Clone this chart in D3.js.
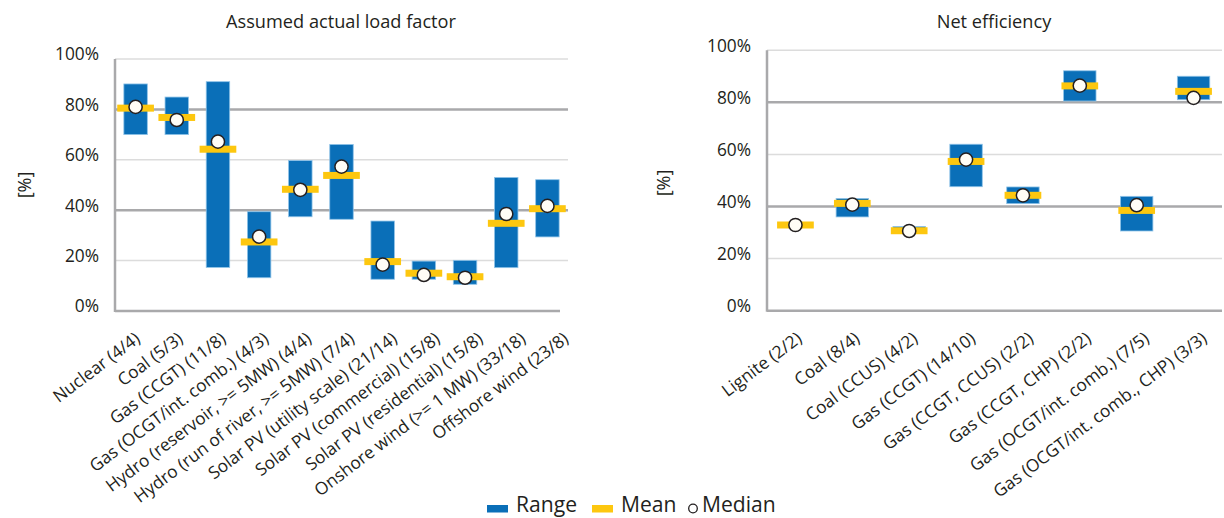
<!DOCTYPE html>
<html><head><meta charset="utf-8">
<script src="https://cdn.jsdelivr.net/npm/d3@7"></script>
<style>
body{margin:0;background:#fff;}
svg{display:block;font-family:"Open Sans","Noto Sans",sans-serif;}
</style></head>
<body><svg id="c" width="1224" height="518"></svg>
<script>
const yTicks = [0, 20, 40, 60, 80, 100];
const loadCategories = ["Nuclear (4/4)","Coal (5/3)","Gas (CCGT) (11/8)","Gas (OCGT/int. comb.) (4/3)","Hydro (reservoir, >= 5MW) (4/4)","Hydro (run of river, >= 5MW) (7/4)","Solar PV (utility scale) (21/14)","Solar PV (commercial) (15/8)","Solar PV (residential) (15/8)","Onshore wind (>= 1 MW) (33/18)","Offshore wind (23/8)"];
const loadMin    = [70.0, 70.0, 17.3, 13.2, 37.4, 36.4, 12.6, 12.6, 10.6, 17.2, 29.4];
const loadMax    = [90.1, 84.9, 91.0, 39.4, 59.7, 66.1, 35.7, 19.8, 20.1, 53.0, 52.1];
const loadMean   = [80.5, 76.8, 64.2, 27.4, 48.3, 53.8, 19.6, 15.0, 13.6, 34.8, 40.6];
const loadMedian = [81.0, 75.8, 67.2, 29.5, 48.1, 57.3, 18.4, 14.3, 13.2, 38.5, 41.7];

const effCategories = ["Lignite (2/2)","Coal (8/4)","Coal (CCUS) (4/2)","Gas (CCGT) (14/10)","Gas (CCGT, CCUS) (2/2)","Gas (CCGT, CHP) (2/2)","Gas (OCGT/int. comb.) (7/5)","Gas (OCGT/int. comb., CHP) (3/3)"];
const effMin    = [32.9, 36.0, 30.0, 47.6, 41.1, 80.5, 30.6, 81.0];
const effMax    = [32.9, 43.1, 32.3, 63.9, 47.5, 92.1, 43.9, 90.0];
const effMean   = [32.9, 41.2, 30.7, 57.3, 44.3, 86.3, 38.5, 84.2];
const effMedian = [32.9, 40.7, 30.6, 58.0, 44.3, 86.4, 40.5, 81.7];

const legendItems = ["Range", "Mean", "Median"];

const BLUE = "#0a6fb8", YELLOW = "#fdc70f", DARK = "#a9a9ab", LIGHT = "#dcdcdc", TXT = "#231f20";
const FONT = "'Open Sans',sans-serif";
const svg = d3.select("#c");

// size fonts so text widths match the original (narrower) typeface
const probe = svg.append("text").attr("font-family", FONT).attr("x", -1000).attr("y", -1000);
function fitSize(str, targetWidth) {
  probe.attr("font-size", 20).text(str);
  return 20 * targetWidth / probe.node().getComputedTextLength();
}
const LABEL_SIZE = fitSize(loadCategories[5], 270);
const TICK_SIZE = fitSize("100%", 44);
const TITLE_SIZE = fitSize("Assumed actual load factor", 230);
const LEGEND_SIZE = fitSize(legendItems[0], 61);
probe.remove();

function panel(cfg) {
  const g = svg.append("g");
  const x = d3.scaleBand().domain(cfg.cats).range([cfg.x0, cfg.x1]).paddingInner(0.43).paddingOuter(0.215);
  const xc = d3.scaleBand().domain(cfg.cats).range([cfg.x0, cfg.x1]);
  const xl = d3.scaleBand().domain(cfg.cats).range(cfg.labelRange);
  const y = d3.scaleLinear().domain([0, 100]).range([cfg.y0, cfg.y1]);

  g.selectAll(".grid").data(yTicks.filter(t => t > 0)).join("line")
    .attr("x1", cfg.x0).attr("x2", cfg.x1)
    .attr("y1", d => y(d)).attr("y2", d => y(d))
    .attr("stroke", d => (d === 40 || d === 80) ? DARK : LIGHT)
    .attr("stroke-width", d => (d === 40 || d === 80) ? 2.5 : 1.5);
  g.append("line").attr("x1", cfg.x0).attr("x2", cfg.x1 - cfg.baseTrim).attr("y1", y(0)).attr("y2", y(0))
    .attr("stroke", DARK).attr("stroke-width", 2.5);
  g.append("line").attr("x1", cfg.x0).attr("x2", cfg.x0).attr("y1", y(0) + 1).attr("y2", y(100))
    .attr("stroke", DARK).attr("stroke-width", 2.5);

  const yAxis = d3.axisLeft(y).tickValues(yTicks).tickFormat(d => d + "%").tickSize(0).tickPadding(16);
  const ya = g.append("g").attr("transform", `translate(${cfg.x0},0)`).call(yAxis);
  ya.select(".domain").remove();
  ya.selectAll("text").attr("font-size", TICK_SIZE).attr("fill", TXT).attr("dy", "0.05em")
    .attr("font-family", FONT);

  const xAxis = d3.axisBottom(xl).tickSize(0).tickPadding(0);
  const xa = g.append("g").attr("transform", `translate(0,${y(0)})`).call(xAxis);
  xa.select(".domain").remove();
  xa.selectAll("text").attr("font-size", LABEL_SIZE).attr("fill", TXT)
    .attr("font-family", FONT)
    .attr("text-anchor", "end").attr("dy", 0)
    .attr("transform", "translate(8,30) rotate(-37)");

  g.append("text").attr("x", cfg.titleX).attr("y", 28).attr("text-anchor", "middle")
    .attr("font-family", FONT).attr("font-size", TITLE_SIZE).attr("fill", TXT).text(cfg.title);
  g.append("text").attr("transform", `translate(${cfg.ylabX},${cfg.ylabY}) rotate(-90)`)
    .attr("font-family", FONT).attr("text-anchor", "middle").attr("font-size", 18).attr("fill", TXT).text("[%]");

  const idx = d3.range(cfg.cats.length);
  g.selectAll(".bar").data(idx).join("rect")
    .attr("x", i => x(cfg.cats[i])).attr("width", x.bandwidth())
    .attr("y", i => y(cfg.max[i])).attr("height", i => y(cfg.min[i]) - y(cfg.max[i]))
    .attr("fill", BLUE).attr("stroke", "#8fc3e8").attr("stroke-width", 0.8);
  const mw = 36.7, mh = 7;
  g.selectAll(".mean").data(idx).join("rect")
    .attr("x", i => xc(cfg.cats[i]) + xc.bandwidth() / 2 - mw / 2).attr("width", mw)
    .attr("y", i => y(cfg.mean[i]) - mh / 2).attr("height", mh)
    .attr("fill", YELLOW);
  g.selectAll(".med").data(idx).join("circle")
    .attr("cx", i => xc(cfg.cats[i]) + xc.bandwidth() / 2)
    .attr("cy", i => y(cfg.median[i])).attr("r", 6.6)
    .attr("fill", "#fffdf6").attr("stroke", TXT).attr("stroke-width", 1.5);
}

panel({cats: loadCategories, min: loadMin, max: loadMax, mean: loadMean, median: loadMedian,
  x0: 115, x1: 568, y0: 311, y1: 59, baseTrim: 8, labelRange: [111.9, 583.1],
  title: "Assumed actual load factor", titleX: 341, ylabX: 31, ylabY: 185});
panel({cats: effCategories, min: effMin, max: effMax, mean: effMean, median: effMedian,
  x0: 767, x1: 1222, y0: 310.7, y1: 50.2, baseTrim: 0, labelRange: [766.1, 1229],
  title: "Net efficiency", titleX: 994, ylabX: 670, ylabY: 183});

const lg = svg.append("g").attr("font-family", FONT).attr("font-size", LEGEND_SIZE).attr("fill", TXT);
lg.append("rect").attr("x", 487).attr("y", 505).attr("width", 21).attr("height", 7.5).attr("fill", BLUE);
lg.append("text").attr("x", 516).attr("y", 512).text(legendItems[0]);
lg.append("rect").attr("x", 592).attr("y", 505).attr("width", 21).attr("height", 7.5).attr("fill", YELLOW);
lg.append("text").attr("x", 621).attr("y", 512).text(legendItems[1]);
lg.append("circle").attr("cx", 693).attr("cy", 508.5).attr("r", 4.3).attr("fill", "#fff").attr("stroke", TXT).attr("stroke-width", 1.3);
lg.append("text").attr("x", 702).attr("y", 512).text(legendItems[2]);
</script></body></html>
